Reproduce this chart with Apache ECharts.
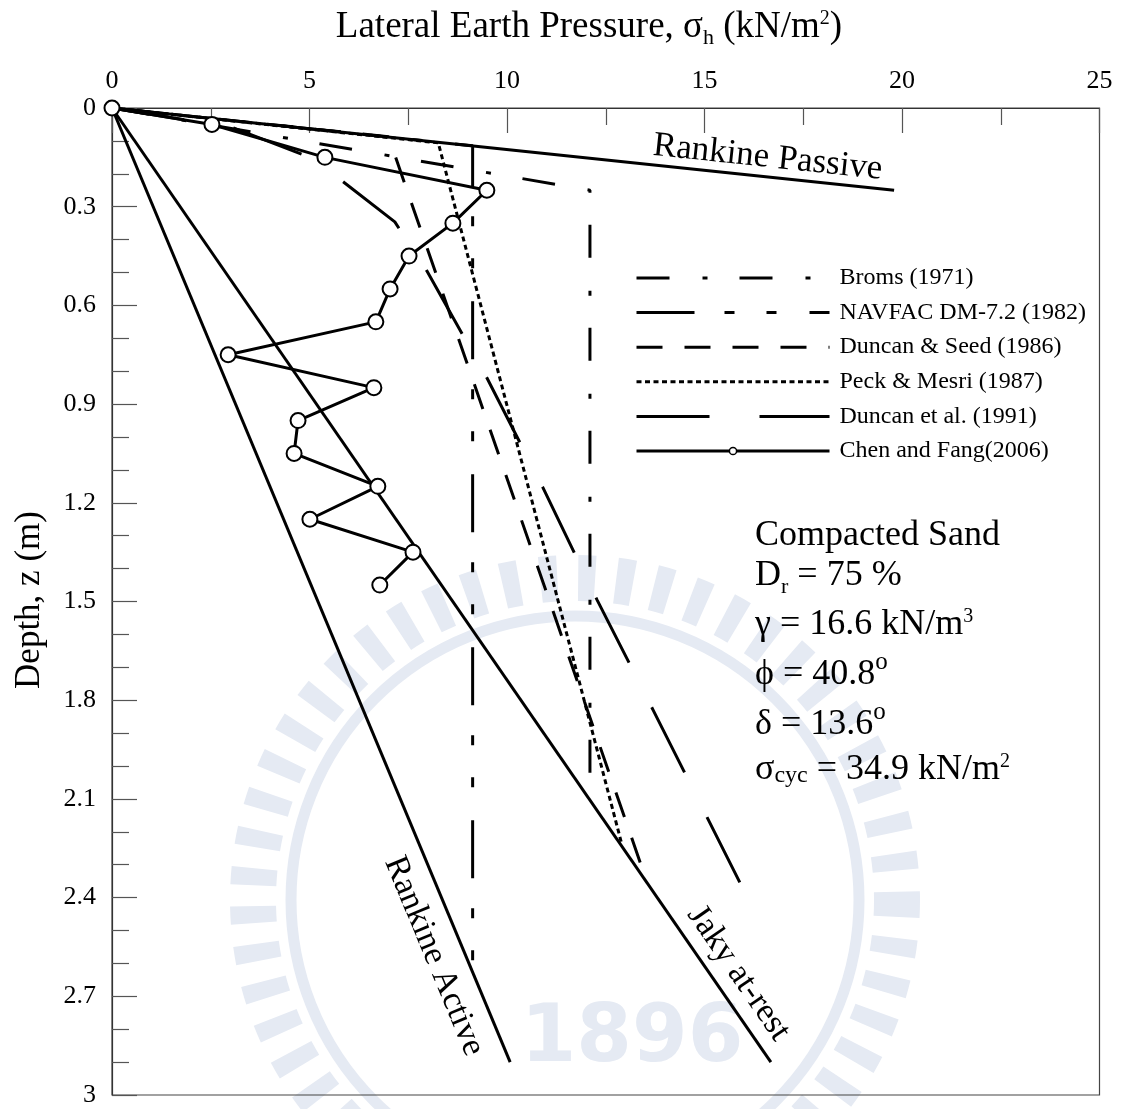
<!DOCTYPE html>
<html>
<head>
<meta charset="utf-8">
<script src="https://cdn.jsdelivr.net/npm/echarts@6/dist/echarts.min.js"></script>
<style>
  html, body { margin: 0; padding: 0; background: #ffffff; }
  #chart { width: 1122px; height: 1109px; }
</style>
</head>
<body>
<div id="chart"></div>
<script>
const SERIF = '"Liberation Serif", "Times New Roman", serif';

// Lateral earth pressure profiles, each point is [sigma_h (kN/m2), depth z (m)]
const rankinePassive = [[0, 0], [19.8, 0.25]];
const rankineActive = [[0, 0], [10.08, 2.9]];
const jakyAtRest = [[0, 0], [16.68, 2.9]];
const broms1971 = [[0, 0], [12.1, 0.25], [12.1, 2.1]];
const navfac1982 = [[0, 0], [9.13, 0.115], [9.13, 2.61]];
const duncanSeed1986 = [[0, 0], [7.0, 0.0875], [13.49, 2.334]];
const peckMesri1987 = [[0, 0], [8.26, 0.106], [12.9, 2.235]];
const duncanEtAl1991 = [[0, 0], [3.06, 0.06], [4.84, 0.142], [5.85, 0.224], [7.16, 0.346], [7.3, 0.372],
  [7.97, 0.495], [9.49, 0.82], [10.91, 1.154], [12.28, 1.495], [13.7, 1.83], [15.95, 2.367]];
const chenFang2006 = [[0, 0], [2.53, 0.05], [5.39, 0.15], [9.49, 0.25], [8.63, 0.35], [7.52, 0.45],
  [7.04, 0.55], [6.68, 0.65], [2.94, 0.75], [6.63, 0.85], [4.71, 0.95], [4.61, 1.05], [6.73, 1.15],
  [5.01, 1.25], [7.62, 1.35], [6.78, 1.45]];

// Axis ranges and tick steps
const xRange = [0, 25];
const xStep = 5;
const yRange = [0, 3];
const yStep = 0.3;

const legendNames = ['Broms (1971)', 'NAVFAC DM-7.2 (1982)', 'Duncan & Seed (1986)',
  'Peck & Mesri (1987)', 'Duncan et al. (1991)', 'Chen and Fang(2006)'];

const INK = '#000000';
const WASH = '#e5eaf3';

function lineSeries(name, data, lineStyle, extra) {
  return Object.assign({
    name: name,
    type: 'line',
    data: data,
    symbol: 'none',
    silent: true,
    animation: false,
    z: 3,
    itemStyle: { color: INK },
    lineStyle: Object.assign({ color: INK, width: 3 }, lineStyle)
  }, extra || {});
}

// legend entries: plain line samples, dash pattern starting at the left end
const legendData = legendNames.map(function (name) {
  const hasMarker = name === 'Chen and Fang(2006)';
  return {
    name: name,
    itemStyle: hasMarker ? { color: '#ffffff', borderColor: INK, borderWidth: 1.5 } : { opacity: 0 },
    lineStyle: { dashOffset: 0, width: 3 }
  };
});

const chart = echarts.init(document.getElementById('chart'), null, { renderer: 'canvas' });

const option = {
  animation: false,
  backgroundColor: '#ffffff',
  grid: {
    left: 112, top: 108, width: 987.5, height: 987,
    show: true, borderColor: '#444444', borderWidth: 1.2, backgroundColor: 'transparent'
  },
  xAxis: {
    type: 'value', position: 'top', min: xRange[0], max: xRange[1], interval: xStep,
    axisLine: { show: true, lineStyle: { color: '#333333', width: 1.2 } },
    axisTick: { show: true, inside: true, length: 25, lineStyle: { color: '#555555', width: 1.2 } },
    minorTick: { show: true, splitNumber: 2, length: 17, lineStyle: { color: '#555555', width: 1.2 } },
    splitLine: { show: false },
    axisLabel: { color: INK, fontFamily: SERIF, fontSize: 26, margin: 14 }
  },
  yAxis: {
    type: 'value', inverse: true, min: yRange[0], max: yRange[1], interval: yStep,
    axisLine: { show: true, lineStyle: { color: '#333333', width: 1.2 } },
    axisTick: { show: true, inside: true, length: 25, lineStyle: { color: '#555555', width: 1.2 } },
    minorTick: { show: true, splitNumber: 3, length: 17, lineStyle: { color: '#555555', width: 1.2 } },
    splitLine: { show: false },
    axisLabel: {
      color: INK, fontFamily: SERIF, fontSize: 26, margin: 16,
      formatter: function (v) {
        const r = Math.round(v * 10) / 10;
        return Number.isInteger(r) ? String(r) : r.toFixed(1);
      }
    }
  },
  legend: {
    data: legendData,
    orient: 'vertical',
    left: 635, top: 266, padding: 0,
    itemWidth: 193, itemHeight: 9, itemGap: 10.6,
    selectedMode: false,
    textStyle: { color: INK, fontFamily: SERIF, fontSize: 24, padding: [0, 0, 0, 5] }
  },
  series: [
    lineSeries('Rankine Passive', rankinePassive, {}),
    lineSeries('Rankine Active', rankineActive, {}),
    lineSeries('Jaky at-rest', jakyAtRest, {}),
    lineSeries('Broms (1971)', broms1971, { type: [33, 33, 5, 32], dashOffset: 98.5 }),
    lineSeries('NAVFAC DM-7.2 (1982)', navfac1982, { type: [58, 30, 10, 32, 10, 33], dashOffset: 1 }),
    lineSeries('Duncan & Seed (1986)', duncanSeed1986, { type: [26, 22], dashOffset: 36 }),
    lineSeries('Peck & Mesri (1987)', peckMesri1987, { type: [5, 3.5], width: 3 }),
    lineSeries('Duncan et al. (1991)', duncanEtAl1991, { type: [73, 50], dashOffset: 0 }),
    lineSeries('Chen and Fang(2006)', chenFang2006, {}, {
      symbol: 'circle', symbolSize: 15, showAllSymbol: true, z: 4,
      itemStyle: { color: '#ffffff', borderColor: INK, borderWidth: 2 }
    })
  ]
};

chart.setOption(option);

// ---- text annotations ----
function px(pt) { return chart.convertToPixel({ gridIndex: 0 }, pt); }
function angleOf(line) {
  const a = px(line[0]);
  const b = px(line[line.length - 1]);
  return Math.atan2(b[1] - a[1], b[0] - a[0]);
}

function makeRich(size) {
  return {
    m: { fontFamily: SERIF, fontSize: size, lineHeight: size + 9, fill: INK },
    sub: { fontFamily: SERIF, fontSize: 22, fill: INK, padding: [22, 0, 0, 0] },
    subc: { fontFamily: SERIF, fontSize: 24, fill: INK, padding: [12, 0, 0, 0] },
    sup: { fontFamily: SERIF, fontSize: 20, fill: INK, padding: [0, 0, 16, 0] },
    deg: { fontFamily: SERIF, fontSize: 25, fill: INK, padding: [0, 0, 26, 0] }
  };
}

function richText(x, y, text, size, align, extra) {
  return Object.assign({
    type: 'text', x: x, y: y, silent: true, z: 10,
    style: {
      text: text, rich: makeRich(size), fill: INK,
      align: align || 'left', verticalAlign: 'middle',
      textAlign: align || 'left', textVerticalAlign: 'middle'
    }
  }, extra || {});
}

function lineLabel(text, anchor, line, size) {
  const p = px(anchor);
  return {
    type: 'text', x: p[0], y: p[1], rotation: -angleOf(line), silent: true, z: 10,
    style: {
      text: text, fill: INK, font: size + 'px ' + SERIF,
      align: 'center', verticalAlign: 'middle', textAlign: 'center', textVerticalAlign: 'middle'
    }
  };
}

// faint emblem in the background
const emblem = [
  { type: 'circle', shape: { cx: 575, cy: 900, r: 322 }, silent: true, z: -10,
    style: { fill: 'none', stroke: WASH, lineWidth: 46, lineDash: [17, 21] } },
  { type: 'circle', shape: { cx: 575, cy: 900, r: 284 }, silent: true, z: -10,
    style: { fill: 'none', stroke: WASH, lineWidth: 11 } },
  { type: 'text', x: 632, y: 1040, silent: true, z: -10,
    style: { text: '1896', fill: WASH, font: 'bold 80px "DejaVu Sans", sans-serif',
      align: 'center', verticalAlign: 'middle', textAlign: 'center', textVerticalAlign: 'middle' } }
];

const graphics = emblem.concat([
  richText(589, 27, '{m|Lateral Earth Pressure, σ}{sub|h}{m| (kN/m}{sup|2}{m|)}', 37, 'center'),
  richText(30, 600, '{m|Depth, z (m)}', 35, 'center', { rotation: Math.PI / 2 }),
  lineLabel('Rankine Passive', [16.6, 0.151], rankinePassive, 35),
  lineLabel('Rankine Active', [8.15, 2.578], rankineActive, 34),
  lineLabel('Jaky at-rest', [15.86, 2.63], jakyAtRest, 34),
  richText(755, 536, '{m|Compacted Sand}', 36),
  richText(755, 576, '{m|D}{sub|r}{m| = 75 %}', 36),
  richText(755, 625, '{m|γ = 16.6 kN/m}{sup|3}', 36),
  richText(755, 675, '{m|ϕ = 40.8}{deg|o}', 36),
  richText(755, 725, '{m|δ = 13.6}{deg|o}', 36),
  richText(755, 770, '{m|σ}{subc|cyc}{m| = 34.9 kN/m}{sup|2}', 36)
]);

chart.setOption({ graphic: graphics });
</script>
</body>
</html>
